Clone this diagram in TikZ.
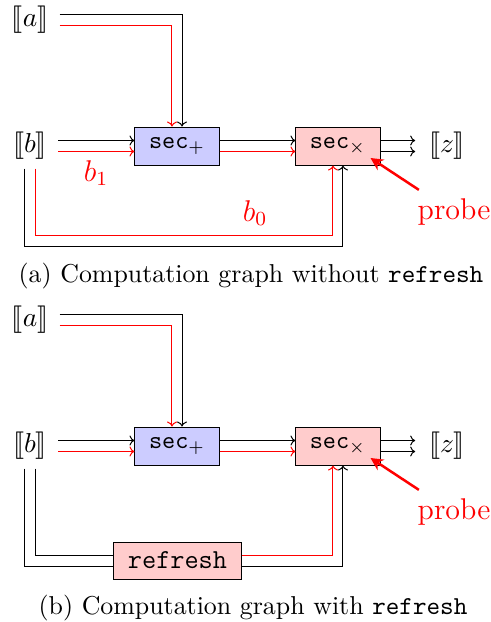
\documentclass[tikz,border=0pt]{standalone}
\usepackage{stmaryrd}
\usetikzlibrary{arrows.meta, positioning}

\tikzset{
  op/.style={draw, minimum width=33.6pt, minimum height=15.2pt, inner sep=2pt, font=\ttfamily},
  val/.style={font=\fontsize{11pt}{13pt}\selectfont},
  wire/.style={-{To[length=2pt,width=4pt]}},
  probearrow/.style={-{Stealth[length=5pt,width=5pt]}, red, line width=1pt},
  note/.style={red, font=\large},
  caption/.style={font=\fontsize{10.35pt}{12pt}\selectfont},
}

\begin{document}
\begin{tikzpicture}[x=0.4pt, y=-0.4pt]
    \useasboundingbox (0,0) rectangle (491,622);

    % (a) without refresh
    \node[val] (a) at (30,20) {$\llbracket a\rrbracket$};
    \node[val] (b) at (30,146) {$\llbracket b\rrbracket$};
    \node[op, fill=blue!20] (splus) at (177,146) {sec$_+$};
    \node[op, fill=red!20] (stimes) at (338,146) {sec$_\times$};
    \node[val] (z) at (447,146) {$\llbracket z\rrbracket$};
    \node[note] (probe) at (454,212) {probe};
    \node[note] (bone) at (96,173) {$b_1$};
    \node[note] (bzero) at (255,213) {$b_0$};

    \draw[wire] ([shift={(1pt,2.2pt)}]a.east) -| ([xshift=2pt]splus.north);
    \draw[wire, red] ([shift={(1pt,-2.2pt)}]a.east) -| ([xshift=-2pt]splus.north);
    \draw[wire] ([shift={(1pt,2.2pt)}]b.east) -- ([yshift=2.2pt]splus.west);
    \draw[wire, red] ([shift={(1pt,-2.2pt)}]b.east) -- ([yshift=-2.2pt]splus.west);
    \draw[wire] ([yshift=2.2pt]splus.east) -- ([yshift=2.2pt]stimes.west);
    \draw[wire, red] ([yshift=-2.2pt]splus.east) -- ([yshift=-2.2pt]stimes.west);
    \draw[wire] ([yshift=2.2pt]stimes.east) -- ([shift={(-2pt,2.2pt)}]z.west);
    \draw[wire] ([yshift=-2.2pt]stimes.east) -- ([shift={(-2pt,-2.2pt)}]z.west);
    \draw[wire] ([xshift=-2.2pt]b.south) |- ([shift={(2pt,-32.4pt)}]stimes.south) -- ([xshift=2pt]stimes.south);
    \draw[wire, red] ([xshift=2.2pt]b.south) |- ([shift={(-2pt,-28pt)}]stimes.south) -- ([xshift=-2pt]stimes.south);
    \draw[probearrow] ([xshift=4pt]probe.north west) -- ([shift={(-4pt,3pt)}]stimes.south east);

    \node[caption] (capa) at (251,276) {(a) Computation graph without \texttt{refresh}};

    % (b) with refresh
    \node[val] (a2) at (30,320) {$\llbracket a\rrbracket$};
    \node[val] (b2) at (30,446) {$\llbracket b\rrbracket$};
    \node[op, fill=blue!20] (splus2) at (177,446) {sec$_+$};
    \node[op, fill=red!20] (stimes2) at (338,446) {sec$_\times$};
    \node[val] (z2) at (447,446) {$\llbracket z\rrbracket$};
    \node[note] (probe2) at (454,512) {probe};
    \node[op, fill=red!20, minimum width=50.8pt, minimum height=14.8pt,
          font=\ttfamily\fontsize{11pt}{13pt}\selectfont] (refresh) at (177.5,560.5) {refresh};

    \draw[wire] ([shift={(1pt,2.2pt)}]a2.east) -| ([xshift=2pt]splus2.north);
    \draw[wire, red] ([shift={(1pt,-2.2pt)}]a2.east) -| ([xshift=-2pt]splus2.north);
    \draw[wire] ([shift={(1pt,2.2pt)}]b2.east) -- ([yshift=2.2pt]splus2.west);
    \draw[wire, red] ([shift={(1pt,-2.2pt)}]b2.east) -- ([yshift=-2.2pt]splus2.west);
    \draw[wire] ([yshift=2.2pt]splus2.east) -- ([yshift=2.2pt]stimes2.west);
    \draw[wire, red] ([yshift=-2.2pt]splus2.east) -- ([yshift=-2.2pt]stimes2.west);
    \draw[wire] ([yshift=2.2pt]stimes2.east) -- ([shift={(-2pt,2.2pt)}]z2.west);
    \draw[wire] ([yshift=-2.2pt]stimes2.east) -- ([shift={(-2pt,-2.2pt)}]z2.west);
    \draw ([xshift=-2.2pt]b2.south) |- ([yshift=-2.2pt]refresh.west);
    \draw ([xshift=2.2pt]b2.south) |- ([yshift=2.2pt]refresh.west);
    \draw[wire, red] ([yshift=2.2pt]refresh.east) -| ([xshift=-2pt]stimes2.south);
    \draw[wire] ([yshift=-2.2pt]refresh.east) -| ([xshift=2pt]stimes2.south);
    \draw[probearrow] ([xshift=4pt]probe2.north west) -- ([shift={(-4pt,3pt)}]stimes2.south east);

    \node[caption] (capb) at (253,608) {(b) Computation graph with \texttt{refresh}};
\end{tikzpicture}
\end{document}
